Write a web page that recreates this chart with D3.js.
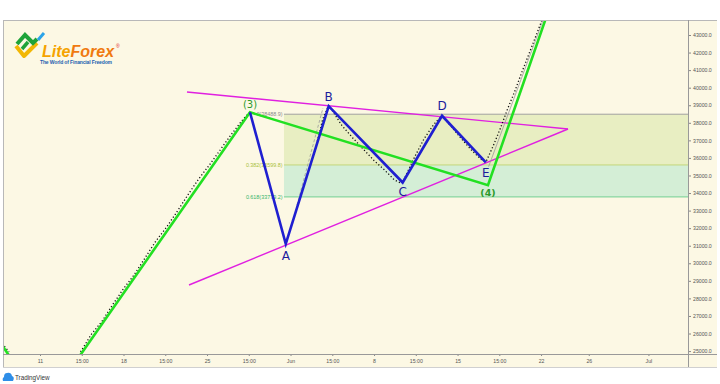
<!DOCTYPE html>
<html><head><meta charset="utf-8">
<script src="https://cdn.jsdelivr.net/npm/d3@7"></script>
<style>body{margin:0;background:#fff}svg{display:block}</style>
</head><body>
<script>
// ---- data ----
const xTickDays   = [0, 3.5, 7, 10.5, 14, 17.5, 21, 24.5, 28, 31.5, 35, 38.5, 42, 46, 51];
const xTickLabels = ["11","15:00","18","15:00","25","15:00","Jun","15:00","8","15:00","15","15:00","22","26","Jul"];
const yTickValues = [25000,26000,27000,28000,29000,30000,31000,32000,33000,34000,35000,36000,37000,38000,39000,40000,41000,42000,43000];

// green impulse wave (3)-(4)
const waveDays = [3.2, 17.6, 37.55, 43.5];
const waveVals = [24600, 38600, 34450, 46100];
const stubDays = [-3.6, -2.55];
const stubVals = [25750, 24700];

// blue ABCDE triangle
const abcdeLabels = ["(3)", "A", "B", "C", "D", "E"];
const abcdeDays   = [17.6, 20.6, 24.2, 30.4, 33.7, 37.37];
const abcdeVals   = [38600, 31100, 38950, 34600, 38400, 35750];

// magenta triangle borders
const upperDays = [12.32, 44.26];
const upperVals = [39754, 37647];
const lowerDays = [12.49, 44.26];
const lowerVals = [28762, 37647];

// fibonacci retracement
const fibLevels = [38488.9, 35599.8, 33779.2];
const fibLabels = ["0(38488.9)", "0.382(35599.8)", "0.618(33779.2)"];
const fibStartDay = 20.45;

// price path (dotted), null = gap
const priceDays = [-3.3,-2.95,-2.6, null,
  3.4,4.3,5.2,6.1,7.0,7.9,8.8,9.7,10.6,11.5,12.4,13.3,14.2,15.1,16.0,16.9,17.5, null,
  22.9,23.3,23.7,24.1,24.4,25.3,26.2,27.1,28.0,28.9,29.7,30.3,
  30.6,31.4,32.2,33.0,33.6,33.9,34.7,35.5,36.3,37.1,37.4,
  38.0,38.6,39.2,39.8,40.4,41.0,41.6,42.1,42.5];
const priceVals = [25600,25250,24950, null,
  24950,25950,26700,27650,28550,29350,30300,31250,32050,32950,33900,34800,35600,36450,37300,38100,38550, null,
  36000,37100,38200,38850,38800,37850,37150,36500,35850,35300,34750,34550,
  34900,36050,37100,37900,38350,38250,37600,36950,36350,35850,35800,
  36700,37700,38800,39800,40900,41950,43000,43900,44600];
// grey guide lines
const guideA = {days:[21.54, 23.72], vals:[33319, 38843]};
const guideE = {days:[37.6, 42.2], vals:[35500, 43900]};

// ---- layout ----
const W = 720, H = 384;
const L = 3, R = 688, T = 20, B = 354;
const svg = d3.select("body").append("svg").attr("width", W).attr("height", H);
const x = d3.scaleLinear().domain([(L-40)/11.93, (R-40)/11.93]).range([L, R]);
const y = d3.scaleLinear().domain([43000 - (B-35)/17.56*1000, 43000 + (35-T)/17.56*1000]).range([B, T]);

// background panels
svg.append("rect").attr("x", L).attr("y", T).attr("width", 717-L).attr("height", 367-T).attr("fill", "#fcf8e4");
svg.append("defs").append("clipPath").attr("id","clip").append("rect")
  .attr("x", L).attr("y", T).attr("width", R-L).attr("height", B-T);
const plot = svg.append("g").attr("clip-path","url(#clip)");

// fib zones
const fx0 = x(fibStartDay), fx1 = R;
plot.append("rect").attr("x", fx0).attr("y", y(fibLevels[0])).attr("width", fx1-fx0)
  .attr("height", y(fibLevels[1]) - y(fibLevels[0])).attr("fill", "#e8eec2");
plot.append("rect").attr("x", fx0).attr("y", y(fibLevels[1])).attr("width", fx1-fx0)
  .attr("height", y(fibLevels[2]) - y(fibLevels[1])).attr("fill", "#d4eed6");
const fibColors = ["#a0a0a0", "#c2d67a", "#72cf92"];
const fibTextColors = ["#8a8a8a", "#a8bf3a", "#35b56a"];
fibLevels.forEach((v,i) => {
  plot.append("line").attr("x1", fx0).attr("x2", fx1).attr("y1", y(v)).attr("y2", y(v))
    .attr("stroke", fibColors[i]).attr("stroke-width", 1);
  plot.append("text").attr("x", fx0 - 1.5).attr("y", y(v) + 1.8).attr("text-anchor","end")
    .attr("font-family","Liberation Sans, Arial, sans-serif").attr("font-size", 5.4)
    .attr("fill", fibTextColors[i]).text(fibLabels[i]);
});

const line = d3.line().defined(d => d[0] !== null).x(d => x(d[0])).y(d => y(d[1]));
const zip = (a,b) => a.map((d,i) => [d, b[i]]);

// magenta triangle
[[upperDays, upperVals],[lowerDays, lowerVals]].forEach(([d,v]) => {
  plot.append("path").attr("d", line(zip(d,v))).attr("fill","none")
    .attr("stroke","#e020e0").attr("stroke-width",1.4);
});

// guides
[guideA, guideE].forEach((g,i) => {
  plot.append("path").attr("d", line(zip(g.days, g.vals))).attr("fill","none")
    .attr("stroke","#9a9a9a").attr("stroke-width",0.8).attr("stroke-dasharray", i===0 ? "3,2" : null);
});

// price dotted
plot.append("path").attr("d", line(zip(priceDays, priceVals))).attr("fill","none")
  .attr("stroke","#111").attr("stroke-width",1.3).attr("stroke-dasharray","1.2,2.2");

// green wave
plot.append("path").attr("d", line(zip(waveDays, waveVals))).attr("fill","none")
  .attr("stroke","#22e022").attr("stroke-width",2.6).attr("stroke-linejoin","miter");
plot.append("path").attr("d", line(zip(stubDays, stubVals))).attr("fill","none")
  .attr("stroke","#22e022").attr("stroke-width",2.6);

// blue ABCDE
plot.append("path").attr("d", line(zip(abcdeDays, abcdeVals))).attr("fill","none")
  .attr("stroke","#1f1fd0").attr("stroke-width",2.6).attr("stroke-linejoin","miter");

// labels
const lblOff = {"(3)":-5, "A":16, "B":-5, "C":13, "D":-6, "E":15};
abcdeLabels.forEach((lb,i) => {
  if (lb === "(3)") return;
  svg.append("text").attr("x", x(abcdeDays[i])).attr("y", y(abcdeVals[i]) + lblOff[lb])
    .attr("text-anchor","middle").attr("font-family","DejaVu Sans, sans-serif").attr("font-size",12)
    .attr("fill","#1c1c9c").text(lb);
});
svg.append("text").attr("x", x(waveDays[1])).attr("y", y(waveVals[1]) - 4)
  .attr("text-anchor","middle").attr("font-family","DejaVu Sans, sans-serif").attr("font-size",10)
  .attr("fill","#2c9a2c").text("(3)");
svg.append("text").attr("x", x(waveDays[2])).attr("y", y(waveVals[2]) + 11)
  .attr("text-anchor","middle").attr("font-family","DejaVu Sans, sans-serif").attr("font-size",9.5)
  .attr("font-weight","bold").attr("fill","#2c9a2c").text("(4)");

// axes
const yAxis = d3.axisRight(y).tickValues(yTickValues).tickFormat(d3.format(".1f")).tickSize(3).tickPadding(2);
const gy = svg.append("g").attr("transform", `translate(${R},0)`).call(yAxis);
gy.select(".domain").remove();
gy.selectAll("line").attr("stroke","#888");
gy.selectAll("text").attr("font-family","Liberation Sans, Arial, sans-serif").attr("font-size",5.2).attr("fill","#555");

const xAxis = d3.axisBottom(x).tickValues(xTickDays).tickFormat((d,i) => xTickLabels[i]).tickSize(2).tickPadding(3);
const gx = svg.append("g").attr("transform", `translate(0,${B})`).call(xAxis);
gx.select(".domain").remove();
gx.selectAll("line").attr("stroke","#888");
gx.selectAll("text").attr("font-family","Liberation Sans, Arial, sans-serif").attr("font-size",5.2).attr("fill","#555");

// frame lines
svg.append("line").attr("x1",L).attr("x2",717).attr("y1",T+0.5).attr("y2",T+0.5).attr("stroke","#b8b8b8");
svg.append("line").attr("x1",L+0.5).attr("x2",L+0.5).attr("y1",T).attr("y2",367).attr("stroke","#b8b8b8");
svg.append("line").attr("x1",R+0.5).attr("x2",R+0.5).attr("y1",T).attr("y2",367).attr("stroke","#999");
svg.append("line").attr("x1",L).attr("x2",717).attr("y1",B+0.5).attr("y2",B+0.5).attr("stroke","#999");
svg.append("line").attr("x1",L).attr("x2",717).attr("y1",367.5).attr("y2",367.5).attr("stroke","#d0d0d0");

// LiteForex logo
const logo = svg.append("g");
logo.append("polyline").attr("points","16,46 24,56 37,43").attr("fill","none").attr("stroke","#f2b705").attr("stroke-width",4).attr("stroke-linejoin","round");
logo.append("polyline").attr("points","17,44 25,35 33,43 37,39").attr("fill","none").attr("stroke","#1fa33a").attr("stroke-width",4);
logo.append("line").attr("x1",22).attr("y1",49).attr("x2",28).attr("y2",42).attr("stroke","#1fa33a").attr("stroke-width",3.5);
logo.append("line").attr("x1",38).attr("y1",40).attr("x2",44).attr("y2",33).attr("stroke","#2aa3e8").attr("stroke-width",3);
const lt = logo.append("text").attr("x",42).attr("y",57).attr("font-family","Liberation Sans, Arial, sans-serif")
  .attr("font-size",16).attr("font-weight","bold").attr("font-style","italic");
lt.append("tspan").attr("fill","#f5a300").text("Lite");
lt.append("tspan").attr("fill","#f07a10").text("Forex");
logo.append("text").attr("x",116).attr("y",48).attr("font-family","Liberation Sans, Arial, sans-serif")
  .attr("font-size",5).attr("fill","#e02020").text("®");
logo.append("text").attr("x",40).attr("y",64).attr("font-family","Liberation Sans, Arial, sans-serif")
  .attr("font-size",5).attr("font-weight","bold").attr("fill","#1b5fb0").attr("textLength",72)
  .text("The World of Financial Freedom");

// TradingView footer
const tv = svg.append("g");
tv.append("path").attr("d","M3,381 L13,381 Q15,377 12,376 Q11,372 7,373 Q4,373 4,377 Q2,378 3,381 Z").attr("fill","#2e8ee8");
tv.append("text").attr("x",15).attr("y",380).attr("font-family","Liberation Sans, Arial, sans-serif")
  .attr("font-size",6.3).attr("fill","#333").text("TradingView");
</script>
</body></html>
